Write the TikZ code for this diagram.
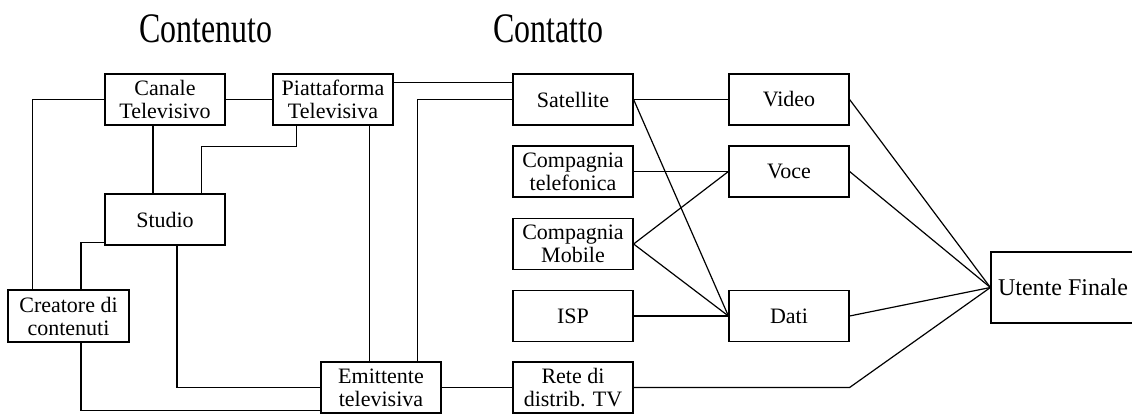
\documentclass[tikz,border=0pt]{standalone}
\usepackage{fontspec}
\usepackage{graphicx}
\setmainfont{Liberation Serif}
\usetikzlibrary{calc}
\tikzset{
  x=1pt, y=-1pt,
  box/.style={draw, line width=1.2pt, rectangle, minimum width=120pt, minimum height=51pt,
    inner sep=0pt, align=center, font=\fontsize{22}{23}\selectfont},
  conn/.style={line width=1.2pt},
  title/.style={inner sep=0pt, font=\fontsize{42}{42}\selectfont}
}
\begin{document}
\begin{tikzpicture}
\useasboundingbox (0,0) rectangle (1132,414);
\node[title] (tcont) at (206,29) {\scalebox{0.76}[1]{Contenuto}};
\node[title] (tcatt) at (548,29) {\scalebox{0.76}[1]{Contatto}};

\node[box] (canale) at (165,99.5) {Canale\\Televisivo};
\node[box] (piatt) at (333,99.5) {Piattaforma\\Televisiva};
\node[box] (studio) at (165,219.5) {Studio};
\node[box, minimum width=121pt, minimum height=52pt] (creatore) at (68.5,316) {Creatore di\\contenuti};
\node[box] (emitt) at (381,387.5) {Emittente\\televisiva};

\node[box] (sat) at (573,99.5) {Satellite};
\node[box] (tel) at (573,171.5) {Compagnia\\telefonica};
\node[box] (mob) at (573,244) {Compagnia\\Mobile};
\node[box] (isp) at (573,316) {ISP};
\node[box] (rete) at (573,387.5) {Rete di\\distrib. TV};

\node[box] (video) at (789,99.5) {Video};
\node[box] (voce) at (789,171.5) {Voce};
\node[box] (dati) at (789,316) {Dati};
\node[box, minimum width=144pt, minimum height=71pt, font=\fontsize{24}{26}\selectfont] (utente) at (1063,287.5) {Utente Finale};

% Contenuto connectors
\draw[conn] (canale.west) -| ([xshift=25pt]creatore.north west);
\draw[conn] (canale.east) -- (piatt.west);
\draw[conn] ([xshift=-12pt]canale.south) -- ([xshift=-12pt]studio.north);
\draw[conn] ([xshift=24pt]piatt.south west) -- ++(0,21) -| ([xshift=-24pt]studio.north east);
\draw[conn] ([yshift=-9pt]piatt.north east) -- ([yshift=-9pt]sat.north west);
\draw[conn] (sat.west) -| ([xshift=-24pt]emitt.north east);
\draw[conn] ([xshift=-24pt]piatt.south east) -- ([xshift=-24pt]piatt.south east |- emitt.north);
\draw[conn] ([xshift=12pt]studio.south) |- (emitt.west);
\draw[conn] ([yshift=3pt]studio.south west) -| ([xshift=12.5pt]creatore.north);
\draw[conn] ([xshift=12.5pt]creatore.south) |- ([yshift=3pt]emitt.south west);
\draw[conn] (emitt.east) -- (rete.west);

% Contatto connectors
\draw[conn] (sat.east) -- (video.west);
\draw[conn] (sat.east) -- (dati.west);
\draw[conn] (tel.east) -- (voce.west);
\draw[conn] (mob.east) -- (voce.west);
\draw[conn] (mob.east) -- (dati.west);
\draw[conn] (isp.east) -- (dati.west);
\draw[conn] (video.east) -- (utente.west);
\draw[conn] (voce.east) -- (utente.west);
\draw[conn] (dati.east) -- (utente.west);
\draw[conn] (rete.east) -- (rete.east -| video.east) -- (utente.west);
\end{tikzpicture}
\end{document}
